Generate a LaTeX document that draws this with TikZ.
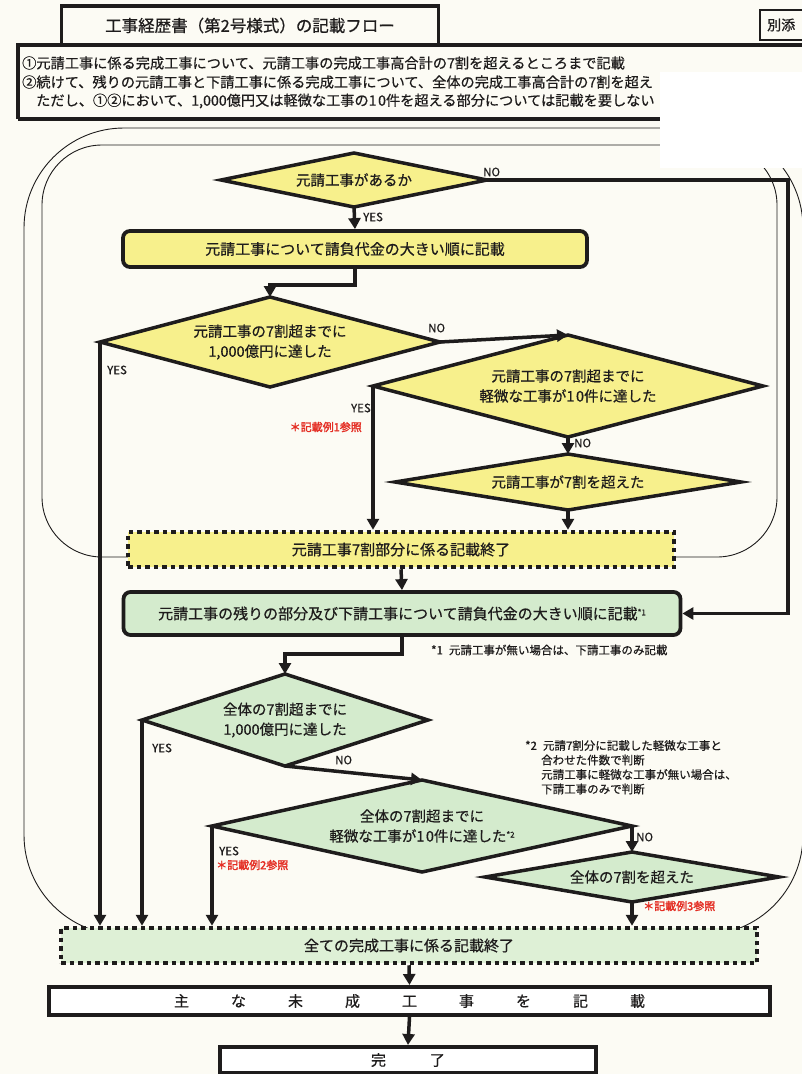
\documentclass[tikz,border=0pt]{standalone}
\usepackage{fontspec}
\setmainfont[FakeBold=0.6]{Noto Sans CJK JP}
\newfontfamily\boldjp[FakeBold=2]{Noto Sans CJK JP}
\usetikzlibrary{arrows.meta,shapes.geometric}
\definecolor{bgc}{RGB}{252,251,244}
\definecolor{ylw}{RGB}{247,240,140}
\definecolor{grn}{RGB}{212,235,205}
\definecolor{grnl}{RGB}{222,240,214}
\definecolor{ink}{RGB}{30,28,28}
\definecolor{redn}{RGB}{228,45,35}
\newcommand{\fsz}[2]{\fontsize{#1pt}{#2pt}\selectfont}
\newcommand{\gp}{\hspace{42pt}}
\newcommand{\supnote}[1]{\raisebox{4pt}{\fsz{8}{8}#1}}
\newcommand{\ten}{1\kern1.5pt0}
\tikzset{
  dia/.style={diamond, draw=ink, line width=3.5pt, inner sep=0pt, outer sep=0pt},
  ydia/.style={dia, fill=ylw},
  gdia/.style={dia, fill=grn},
  dtxt/.style={align=center, font=\fsz{14.5}{20}, text=ink, inner sep=0pt},
  rbox/.style={rectangle, rounded corners=7pt, draw=ink, line width=3.8pt, inner sep=0pt, font=\fsz{15}{18}, text=ink},
  dbox/.style={rectangle, draw=ink, line width=4.5pt, dash pattern=on 4.5pt off 4pt, inner sep=0pt, font=\fsz{15}{18}, text=ink},
  pbox/.style={rectangle, draw=ink, line width=4pt, fill=white, inner sep=0pt, font=\fsz{15}{18}, text=ink},
  conn/.style={draw=ink, line width=3.5pt, -{Triangle[length=11pt,width=12pt]}},
  frame/.style={draw=ink, line width=0.9pt},
  lbl/.style={font=\fsz{11.5}{12}, text=ink, inner sep=0pt},
  rnote/.style={font=\boldjp\fsz{11}{12}, text=redn, inner sep=0pt},
  note/.style={font=\fsz{11.5}{14.5}, text=ink, inner sep=0pt, align=left},
  htxt/.style={font=\fsz{14.2}{16}, text=ink, inner sep=0pt, anchor=west}
}
\begin{document}
\begin{tikzpicture}[x=1pt,y=-1pt]
\useasboundingbox (0,0) rectangle (802,1074);
\clip (0,0) rectangle (802,1074);
\fill[bgc] (0,0) rectangle (802,1074);

% frames
\draw[frame, rounded corners=100pt] (24,128) rectangle (803,935);
\draw[frame, rounded corners=60pt] (42,145) rectangle (777,557);

% header
\draw[draw=ink, line width=3.5pt] (18,119) -- (18,45) -- (830,45);
\draw[draw=ink, line width=3.5pt] (18,119) -- (830,119);
\node[htxt] (h1) at (22,63) {①元請工事に係る完成工事について、元請工事の完成工事高合計の7割を超えるところまで記載};
\node[htxt] (h2) at (22,82) {②続けて、残りの元請工事と下請工事に係る完成工事について、全体の完成工事高合計の7割を超え};
\node[htxt] (h3) at (36,101) {ただし、①②において、1,000億円又は軽微な工事の\ten 件を超える部分については記載を要しない};
\node[rectangle, draw=ink, line width=3.5pt, fill=bgc, minimum width=377pt, minimum height=39pt, font=\fsz{16.5}{18}, text=ink] (title) at (250,25.5) {工事経歴書（第2号様式）の記載フロー};
\draw[draw=ink, line width=1.5pt] (760,10) rectangle (830,40);
\node[font=\fsz{14}{16}, text=ink, anchor=west, inner sep=0pt] (betten) at (767,25) {別添};

% white patch of the scan
\fill[white] (660,72) rectangle (802,168);

% nodes
\node[ydia, minimum width=266pt, minimum height=54pt] (d1) at (354,180) {};
\node[dtxt] (t1) at (d1) {元請工事があるか};
\node[rbox, fill=ylw, minimum width=464pt, minimum height=36pt] (b1) at (355,249) {元請工事について請負代金の大きい順に記載};
\node[ydia, minimum width=340pt, minimum height=90pt] (d2) at (270,342) {};
\node[dtxt] (t2) at (d2) {元請工事の7割超までに\\1,000億円に達した};
\node[ydia, minimum width=390pt, minimum height=102pt] (d3) at (568,386) {};
\node[dtxt] (t3) at (d3) {元請工事の7割超までに\\軽微な工事が\ten 件に達した};
\node[ydia, minimum width=346pt, minimum height=56pt] (d4) at (568,482) {};
\node[dtxt] (t4) at (d4) {元請工事が7割を超えた};
\node[dbox, fill=ylw, minimum width=546pt, minimum height=35pt] (y) at (401,549.5) {元請工事7割部分に係る記載終了};
\node[rbox, fill=grn, minimum width=557pt, minimum height=43pt] (b2) at (402,613.5) {元請工事の残りの部分及び下請工事について請負代金の大きい順に記載\supnote{*1}};
\node[gdia, minimum width=286pt, minimum height=92pt] (d5) at (285,720) {};
\node[dtxt] (t5) at (d5) {全体の7割超までに\\1,000億円に達した};
\node[gdia, minimum width=420pt, minimum height=92pt] (d6) at (422,826) {};
\node[dtxt] (t6) at (d6) {全体の7割超までに\\軽微な工事が\ten 件に達した\supnote{*2}};
\node[gdia, minimum width=294pt, minimum height=50pt] (d7) at (632,877) {};
\node[dtxt] (t7) at (d7) {全体の7割を超えた};
\node[dbox, fill=grnl, minimum width=696pt, minimum height=35pt] (g) at (409,945.5) {全ての完成工事に係る記載終了};
\node[pbox, minimum width=721pt, minimum height=28pt] (m) at (409.5,1001) {主\gp な\gp 未\gp 成\gp 工\gp 事\gp を\gp 記\gp 載};
\node[pbox, minimum width=376pt, minimum height=26pt] (f) at (408,1060) {完\hspace{44pt}了};

% connectors
\coordinate (noR) at (788,180);
\draw[conn] (d1.east) -- (noR) |- (b2.east);
\draw[conn] (d1.south) -- (b1.north);
\draw[conn] (b1.south) -- ++(0,16) -| (d2.north);
\draw[conn] (d2.east) -- (d3.north);
\draw[conn] (d2.west) -- (d2.west |- g.north);
\draw[conn] (d3.west) -- (d3.west |- y.north);
\draw[conn] (d3.south) -- (d4.north);
\draw[conn] (d4.south) -- (d4.south |- y.north);
\draw[conn] (y.south) -- (b2.north);
\draw[conn] (b2.south) -- ++(0,17) -| (d5.north);
\draw[conn] (d5.west) -- (d5.west |- g.north);
\draw[conn] (d5.south) -- (d6.north);
\draw[conn] (d6.west) -- (d6.west |- g.north);
\draw[conn] (d6.east) -- (d7.north);
\draw[conn] (d7.south) -- (d7.south |- g.north);
\draw[conn] (g.south) -- (m.north);
\draw[conn] (m.south) -- (f.north);

% labels
\node[lbl, anchor=west] (l1) at (483,172) {NO};
\node[lbl, anchor=west] (l2) at (363,217) {YES};
\node[lbl, anchor=west] (l3) at (428,328) {NO};
\node[lbl, anchor=west] (l4) at (107,370) {YES};
\node[lbl, anchor=east] (l5) at (371,408) {YES};
\node[rnote, anchor=east] (r1) at (362,427) {＊記載例1参照};
\node[lbl, anchor=west] (l6) at (574,443) {NO};
\node[note, anchor=west] (n1) at (431,650) {*1\hspace{6pt}元請工事が無い場合は、下請工事のみ記載};
\node[lbl, anchor=west] (l7) at (152,748) {YES};
\node[lbl, anchor=west] (l8) at (335,760) {NO};
\node[note, anchor=north west] (n2) at (525,740) {*2\hspace{6pt}元請7割分に記載した軽微な工事と\\\hspace{16pt}合わせた件数で判断\\\hspace{16pt}元請工事に軽微な工事が無い場合は、\\\hspace{16pt}下請工事のみで判断};
\node[lbl, anchor=west] (l9) at (219,851) {YES};
\node[rnote, anchor=west] (r2) at (216,865) {＊記載例2参照};
\node[lbl, anchor=west] (l10) at (636,837) {NO};
\node[rnote, anchor=west] (r3) at (643,906) {＊記載例3参照};
\end{tikzpicture}
\end{document}
